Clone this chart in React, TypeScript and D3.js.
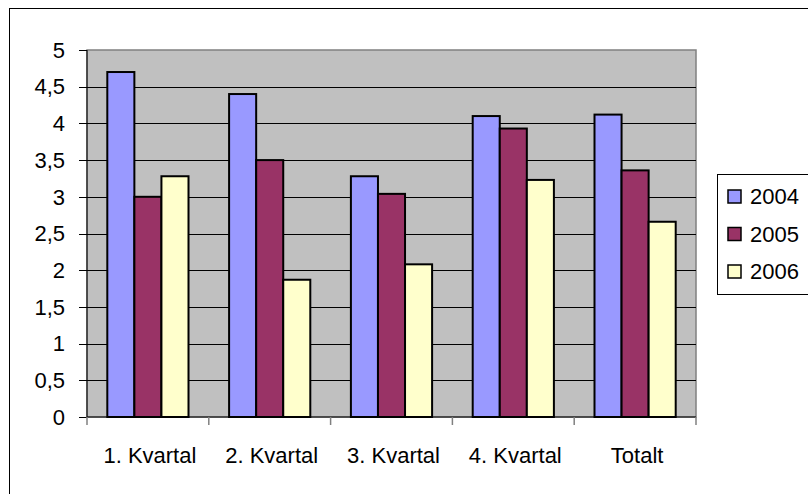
import React from "react";
import * as d3 from "d3";

const categories = ["1. Kvartal", "2. Kvartal", "3. Kvartal", "4. Kvartal", "Totalt"];
const seriesNames = ["2004", "2005", "2006"];
const values2004 = [4.7, 4.4, 3.28, 4.1, 4.12];
const values2005 = [3.0, 3.5, 3.04, 3.93, 3.36];
const values2006 = [3.28, 1.87, 2.08, 3.23, 2.66];
const seriesColors = ["#9999FF", "#993366", "#FFFFCC"];
const yTicks = [0, 0.5, 1, 1.5, 2, 2.5, 3, 3.5, 4, 4.5, 5];
const yTickLabels = ["0", "0,5", "1", "1,5", "2", "2,5", "3", "3,5", "4", "4,5", "5"];

const W = 808;
const H = 494;
const plot = { left: 87, right: 696, top: 50, bottom: 417 };
const font = "'Liberation Sans', Arial, sans-serif";
const fs = 22;

export default function App() {
  const series = [values2004, values2005, values2006];
  const x = d3.scaleBand<string>().domain(categories).range([plot.left, plot.right]);
  const y = d3.scaleLinear().domain([0, 5]).range([plot.bottom, plot.top]);
  const barW = x.bandwidth() / 4.5;
  const x1 = (i: number) => 0.75 * barW + i * barW;

  return (
    <svg width={W} height={H} style={{ position: "fixed", left: 0, top: 0, background: "#fff" }}>
      <rect x={9.5} y={8.5} width={W + 10} height={H + 10} fill="#fff" stroke="#000" strokeWidth={1} />
      <rect x={plot.left} y={plot.top} width={plot.right - plot.left} height={plot.bottom - plot.top} fill="#C0C0C0" stroke="#808080" strokeWidth={1.5} />
      {yTicks.slice(1, -1).map((t) => (
        <line key={t} x1={plot.left} x2={plot.right} y1={Math.round(y(t)) + 0.5} y2={Math.round(y(t)) + 0.5} stroke="#000" strokeWidth={1.2} />
      ))}
      {categories.map((c, ci) =>
        series.map((s, si) => {
          const bx = (x(c) as number) + x1(si);
          const by = y(s[ci]);
          return (
            <rect key={c + si} x={bx} y={by} width={barW} height={plot.bottom - by} fill={seriesColors[si]} stroke="#000" strokeWidth={2} />
          );
        })
      )}
      <line x1={plot.left} x2={plot.left} y1={plot.top} y2={plot.bottom} stroke="#000" strokeWidth={1} />
      <line x1={plot.left} x2={plot.right} y1={plot.bottom} y2={plot.bottom} stroke="#000" strokeWidth={1} />
      {yTicks.map((t, i) => (
        <g key={t}>
          <line x1={plot.left - 8} x2={plot.left} y1={Math.round(y(t)) + 0.5} y2={Math.round(y(t)) + 0.5} stroke="#000" strokeWidth={1} />
          <text x={65} y={y(t)} dy="0.35em" textAnchor="end" fontFamily={font} fontSize={fs} fill="#000">
            {yTickLabels[i]}
          </text>
        </g>
      ))}
      {[...categories.map((c) => x(c) as number), plot.right].map((bx, i) => (
        <line key={i} x1={bx} x2={bx} y1={plot.bottom} y2={plot.bottom + 8} stroke="#808080" strokeWidth={1.5} />
      ))}
      {categories.map((c) => (
        <text key={c} x={(x(c) as number) + x.bandwidth() / 2 + 2} y={463} textAnchor="middle" fontFamily={font} fontSize={fs} fill="#000">
          {c}
        </text>
      ))}
      <rect x={717.5} y={174.5} width={100} height={120} fill="#fff" stroke="#000" strokeWidth={1} />
      {seriesNames.map((n, i) => (
        <g key={n}>
          <rect x={728} y={190 + i * 37.5} width={13} height={13} fill={seriesColors[i]} stroke="#000" strokeWidth={1.5} />
          <text x={750} y={204 + i * 37.5} fontFamily={font} fontSize={fs} fill="#000">
            {n}
          </text>
        </g>
      ))}
    </svg>
  );
}
